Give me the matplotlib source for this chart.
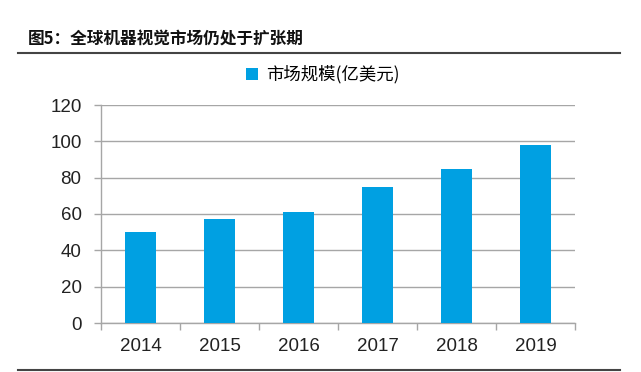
import matplotlib
matplotlib.use("Agg")
import matplotlib.pyplot as plt
from matplotlib.lines import Line2D

plt.rcParams['font.family'] = ['Liberation Sans', 'Noto Sans CJK SC', 'DejaVu Sans']

years = ['2014', '2015', '2016', '2017', '2018', '2019']
values = [50, 57, 61, 75, 85, 98]
series_name = '市场规模(亿美元)'
title = '图5：全球机器视觉市场仍处于扩张期'
yticks = [0, 20, 40, 60, 80, 100, 120]

bar_color = '#00A0E2'
grid_color = '#A6A6A6'

fig = plt.figure(figsize=(6.41, 3.72), dpi=100)
ax = fig.add_axes([101/641, 1-323/372, 474/641, 218/372])

x = list(range(len(years)))
ax.bar(x, values, width=0.4, color=bar_color, zorder=3, label=series_name)
ax.set_xlim(-0.5, len(years)-0.5)
ax.set_ylim(0, 120)
ax.set_yticks(yticks)
ax.set_yticklabels([str(v) for v in yticks], fontsize=13.5, color='#222222')
ax.set_xticks(x)
ax.set_xticklabels(years, fontsize=13.5, color='#222222')
ax.set_xticks([i - 0.5 for i in range(len(years)+1)], minor=True)
ax.tick_params(axis='x', which='major', length=0, pad=11)
ax.tick_params(axis='x', which='minor', length=5, color=grid_color, width=1, direction='out')
ax.tick_params(axis='y', length=5, color=grid_color, width=1, pad=9)
ax.yaxis.grid(True, color=grid_color, linewidth=1, zorder=0)
for s in ['top', 'right']:
    ax.spines[s].set_visible(False)
for s in ['left', 'bottom']:
    ax.spines[s].set_color(grid_color)
    ax.spines[s].set_linewidth(1)

leg = ax.legend(loc='lower center', bbox_to_anchor=(0.468, 1.025), frameon=False,
                handlelength=0.7, handleheight=0.7, handletextpad=0.5,
                prop={'family': ['Noto Sans CJK SC', 'DejaVu Sans'], 'size': 12.5})

fig.text(28/641, 1-40/372, title, fontsize=12, fontweight='bold', va='center', ha='left',
         family=['Noto Sans CJK SC', 'DejaVu Sans'], color='#111111')
fig.add_artist(Line2D([18/641, 620/641], [1-53/372, 1-53/372], color='#444444', linewidth=1.5))
fig.add_artist(Line2D([18/641, 620/641], [1-370/372, 1-370/372], color='#444444', linewidth=1.5))

fig.savefig('out.png', dpi=100, facecolor='white')
